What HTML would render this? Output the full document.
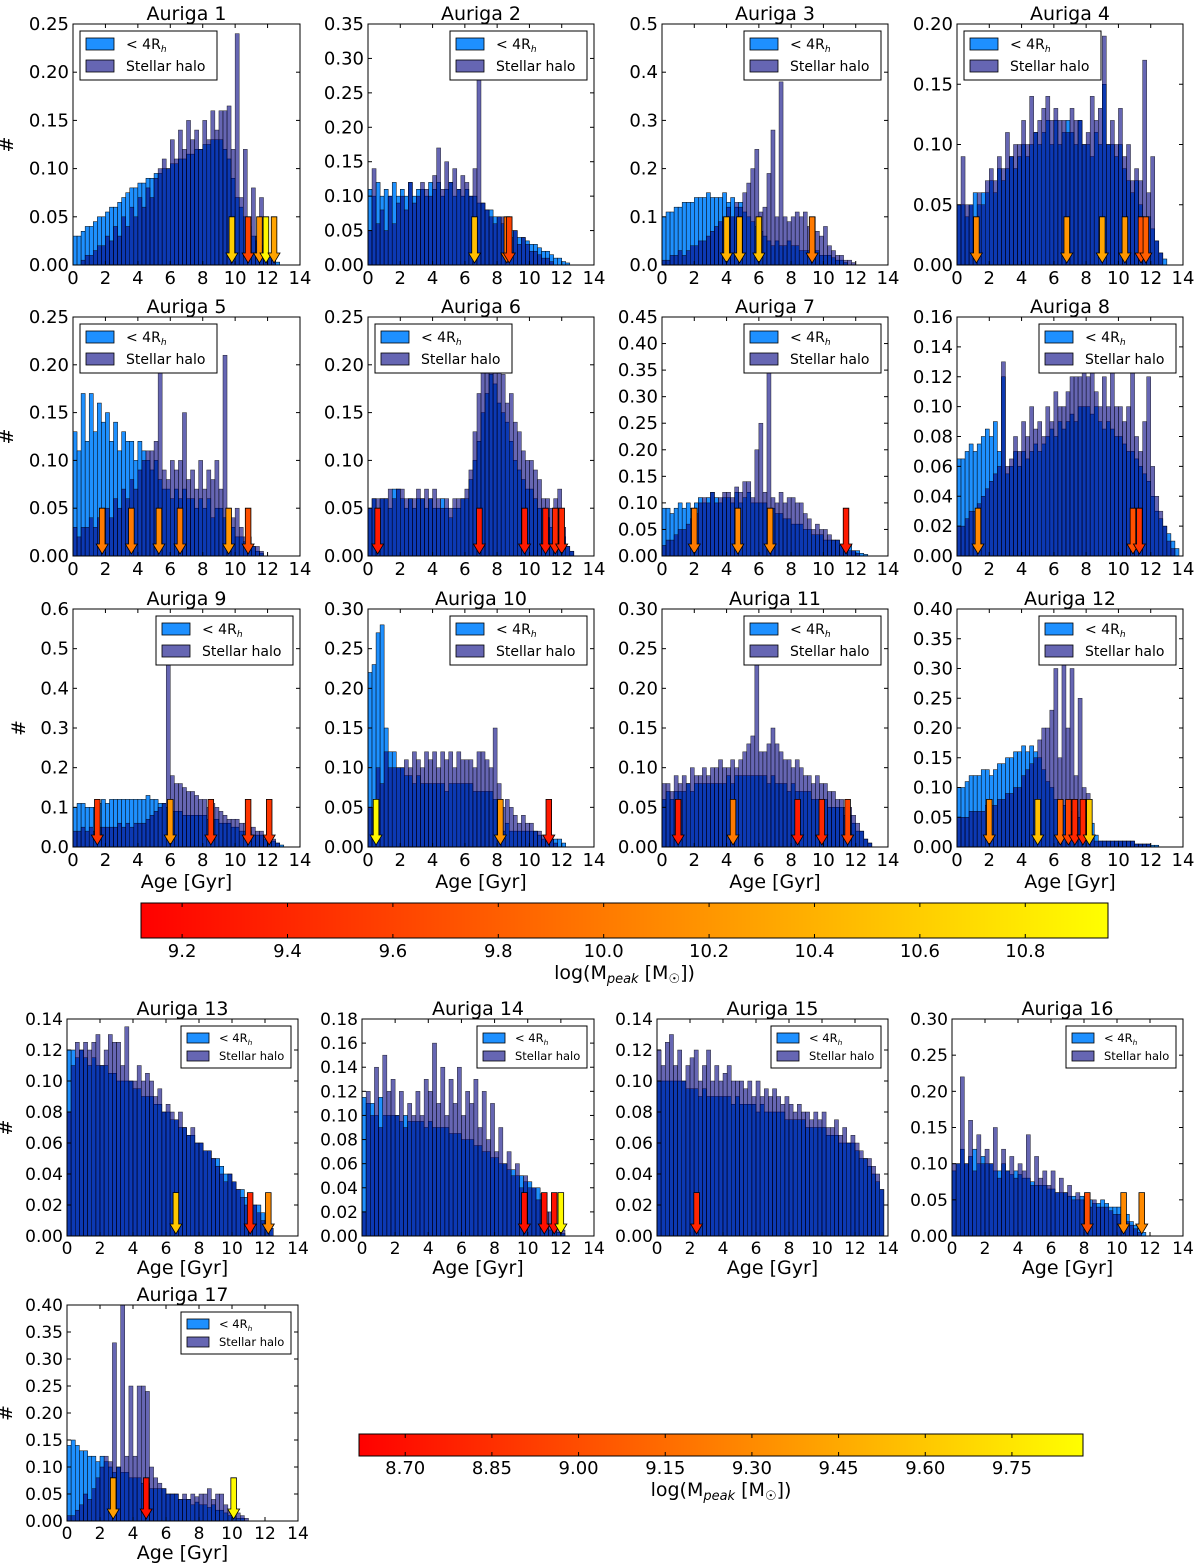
<!DOCTYPE html>
<html><head><meta charset="utf-8"><style>
body{margin:0;background:#fff}
svg{display:block;font-family:"DejaVu Sans","Liberation Sans",sans-serif}
</style></head><body>
<svg id="fig" width="1200" height="1568" viewBox="0 0 1200 1568" xmlns="http://www.w3.org/2000/svg">
<defs>
<linearGradient id="autumn" x1="0" x2="1" y1="0" y2="0"><stop offset="0" stop-color="#ff0000"/><stop offset="1" stop-color="#ffff00"/></linearGradient>
</defs>
</svg>
<script>
const binWidth = 0.25;
const blue1=[.03,.03,.035,.04,.04,.045,.05,.05,.055,.06,.06,.065,.07,.075,.08,.08,.085,.085,.09,.09,.095,.095,.1,.1,.105,.105,.11,.11,.115,.115,.12,.12,.125,.125,.13,.13,.13,.12,.11,.09,.07,.06,.05,.04,.03,.025,.02,.015,.01,.005,.003,0];
const halo1=[0,0,.005,.01,.01,.015,.02,.02,.03,.025,.04,.03,.05,.04,.06,.05,.07,.06,.08,.07,.09,.1,.11,.1,.13,.11,.14,.12,.15,.13,.14,.12,.15,.13,.16,.14,.16,.16,.165,.12,.24,.07,.12,.05,.08,.03,.07,.02,.01,.005,0];
const blue2=[.11,.1,.12,.1,.11,.1,.12,.1,.11,.1,.12,.1,.11,.11,.1,.12,.11,.12,.1,.11,.12,.1,.11,.1,.11,.1,.1,.09,.09,.08,.08,.07,.07,.06,.06,.05,.05,.04,.04,.035,.03,.03,.025,.02,.02,.015,.01,.01,.005,.003,0];
const halo2=[.05,.14,.06,.08,.05,.1,.06,.09,.1,.08,.12,.09,.1,.12,.11,.1,.13,.17,.11,.15,.12,.14,.11,.13,.12,.1,.14,.28,.09,.08,.07,.06,.07,.07,.05,.04,.05,.03,.04,.03,.02,.02,.015,.01,.01,.005,0];
const blue3=[.1,.11,.11,.12,.12,.13,.13,.13,.14,.14,.14,.15,.14,.14,.14,.15,.13,.14,.12,.13,.11,.1,.09,.08,.07,.06,.05,.04,.05,.04,.04,.05,.04,.04,.03,.03,.03,.03,.03,.02,.02,.02,.015,.01,.01,.005,0];
const halo3=[.01,.01,.02,.02,.03,.02,.03,.04,.04,.05,.05,.06,.07,.08,.09,.1,.12,.1,.13,.12,.15,.17,.2,.24,.11,.12,.19,.28,.1,.38,.1,.09,.1,.11,.1,.11,.08,.1,.07,.06,.08,.04,.03,.02,.02,.01,.01,.005,0];
const blue4=[.05,.05,.04,.05,.06,.05,.06,.06,.07,.06,.08,.07,.08,.09,.08,.09,.1,.09,.1,.11,.1,.11,.12,.1,.12,.1,.11,.12,.11,.1,.12,.1,.1,.09,.11,.1,.15,.1,.1,.09,.1,.08,.07,.06,.07,.05,.04,.04,.03,.02,.01,.005,0];
const halo4=[.05,.09,.05,.05,.04,.06,.05,.07,.08,.07,.09,.08,.11,.09,.1,.1,.12,.1,.14,.11,.12,.13,.14,.12,.13,.12,.12,.11,.13,.12,.12,.1,.11,.14,.12,.13,.19,.1,.12,.1,.13,.09,.1,.07,.08,.07,.17,.06,.09,.02,.01,0];
const blue5=[.13,.11,.17,.12,.17,.13,.16,.14,.15,.12,.14,.11,.13,.12,.12,.1,.12,.11,.1,.09,.1,.08,.07,.07,.06,.07,.06,.07,.06,.06,.05,.06,.05,.06,.04,.05,.05,.04,.02,.03,.02,.02,.015,.01,.01,.005,.003,0];
const halo5=[.03,.02,.03,.03,.04,.03,.04,.05,.05,.04,.06,.05,.07,.06,.08,.07,.09,.1,.11,.11,.12,.2,.09,.08,.1,.09,.1,.15,.08,.09,.07,.1,.07,.09,.08,.1,.07,.21,.05,.04,.05,.03,.02,.02,.01,.01,.005,0];
const blue6=[.05,.06,.05,.06,.06,.05,.07,.07,.06,.05,.06,.05,.06,.06,.05,.06,.05,.05,.06,.05,.04,.05,.05,.06,.06,.08,.1,.12,.15,.17,.19,.18,.16,.15,.14,.12,.1,.09,.08,.07,.07,.06,.05,.05,.04,.03,.03,.02,.02,.01,.005,0];
const halo6=[.05,.06,.06,.06,.06,.07,.06,.07,.07,.06,.06,.06,.07,.06,.07,.06,.07,.06,.05,.06,.05,.06,.06,.06,.07,.09,.13,.17,.2,.2,.2,.2,.2,.19,.16,.17,.14,.13,.11,.1,.1,.09,.08,.06,.06,.05,.06,.07,.03,.01,.005,0];
const blue7=[.09,.09,.08,.09,.1,.09,.1,.09,.1,.11,.1,.11,.12,.11,.1,.11,.11,.1,.12,.1,.11,.12,.1,.1,.1,.1,.09,.09,.08,.08,.07,.07,.06,.06,.06,.05,.05,.04,.04,.04,.03,.03,.03,.03,.02,.02,.02,.01,.01,.005,.003,0];
const halo7=[.02,.03,.03,.04,.05,.05,.06,.07,.08,.1,.11,.1,.12,.1,.11,.12,.12,.11,.13,.12,.14,.14,.11,.2,.25,.12,.36,.11,.1,.12,.1,.11,.11,.1,.1,.08,.07,.05,.06,.05,.05,.04,.03,.03,.02,.02,.01,.01,.005,0];
const blue8=[.065,.065,.07,.075,.07,.075,.08,.085,.08,.09,.07,.12,.055,.06,.07,.06,.07,.065,.07,.075,.07,.075,.08,.085,.08,.09,.085,.09,.095,.09,.1,.1,.1,.095,.1,.09,.085,.09,.085,.08,.08,.075,.07,.07,.065,.06,.055,.05,.04,.03,.025,.02,.015,.01,.005,0];
const halo8=[.02,.02,.025,.03,.03,.035,.04,.045,.05,.055,.06,.13,.06,.065,.08,.07,.09,.08,.1,.085,.09,.08,.1,.09,.11,.1,.1,.11,.12,.12,.12,.13,.12,.13,.11,.1,.12,.1,.13,.1,.1,.09,.1,.13,.08,.07,.09,.12,.06,.04,.03,.02,.01,.005,0];
const blue9=[.1,.11,.11,.1,.1,.1,.11,.12,.11,.12,.12,.12,.12,.12,.12,.12,.12,.12,.13,.12,.12,.11,.11,.1,.09,.09,.09,.08,.08,.08,.08,.08,.08,.07,.07,.07,.06,.06,.06,.05,.05,.04,.04,.04,.03,.03,.03,.02,.02,.015,.01,.005,0];
const halo9=[.04,.04,.05,.04,.05,.04,.05,.05,.05,.05,.05,.06,.05,.06,.05,.06,.06,.06,.07,.08,.09,.1,.11,.47,.18,.16,.16,.15,.14,.14,.13,.12,.12,.1,.11,.1,.09,.08,.07,.07,.07,.06,.06,.05,.05,.04,.04,.03,.03,.02,.01,0];
const blue10=[.22,.23,.27,.28,.15,.12,.12,.1,.1,.09,.09,.08,.09,.08,.08,.08,.08,.08,.08,.07,.08,.08,.08,.08,.08,.08,.07,.07,.07,.07,.07,.06,.05,.02,.03,.02,.02,.02,.02,.02,.02,.02,.015,.01,.01,.01,.01,.01,.005,0];
const halo10=[.05,.05,.1,.08,.12,.1,.1,.1,.1,.11,.1,.12,.11,.1,.12,.11,.12,.1,.12,.11,.12,.1,.12,.11,.11,.11,.1,.12,.12,.11,.1,.15,.08,.05,.06,.05,.04,.03,.04,.03,.03,.02,.02,.015,.01,.01,.005,0];
const blue11=[.06,.07,.06,.07,.07,.07,.08,.07,.08,.08,.08,.08,.08,.08,.08,.08,.09,.08,.09,.09,.09,.09,.09,.09,.09,.09,.08,.09,.08,.08,.08,.07,.08,.07,.07,.07,.07,.06,.06,.06,.06,.05,.05,.05,.05,.04,.04,.03,.02,.02,.01,.005,0];
const halo11=[.08,.08,.07,.09,.08,.09,.08,.1,.09,.09,.1,.09,.1,.1,.11,.1,.1,.11,.1,.11,.12,.13,.14,.24,.12,.12,.13,.15,.13,.12,.11,.11,.1,.11,.1,.09,.09,.08,.09,.08,.08,.07,.07,.06,.06,.05,.05,.04,.03,.02,.01,.005,0];
const blue12=[.1,.1,.11,.12,.12,.12,.13,.13,.12,.13,.14,.14,.15,.15,.16,.16,.17,.16,.17,.16,.15,.13,.11,.1,.08,.07,.07,.06,.06,.06,.05,.05,.05,.04,.02,.01,.01,.01,.01,.01,.01,.01,.01,.01,.005,.005,.005,.005,.003,.003,0];
const halo12=[.05,.05,.05,.06,.06,.06,.06,.07,.07,.07,.08,.08,.09,.09,.1,.1,.12,.13,.14,.15,.18,.2,.2,.23,.3,.15,.32,.2,.3,.12,.25,.1,.09,.02,.01,.01,.01,.01,.01,.01,.01,.01,.01,.01,.005,.005,.005,.005,0];
const blue13=[.12,.12,.115,.12,.115,.11,.115,.11,.11,.11,.105,.105,.1,.1,.1,.1,.095,.095,.09,.09,.09,.085,.085,.08,.08,.075,.075,.07,.07,.065,.065,.06,.06,.055,.055,.05,.05,.045,.04,.04,.035,.03,.03,.025,.02,.02,.02,.015,.01,.005,0];
const halo13=[.08,.11,.125,.12,.125,.12,.125,.13,.11,.12,.13,.125,.125,.11,.135,.1,.1,.11,.1,.105,.1,.09,.095,.08,.085,.08,.075,.08,.07,.065,.07,.06,.06,.055,.055,.05,.045,.04,.035,.04,.035,.03,.025,.02,.025,.02,.015,.01,.01,.005,0];
const blue14=[.115,.11,.11,.1,.115,.1,.1,.1,.1,.095,.1,.095,.095,.095,.095,.09,.095,.09,.09,.09,.09,.085,.085,.085,.08,.08,.08,.075,.075,.07,.07,.065,.065,.06,.06,.055,.055,.05,.05,.045,.045,.04,.04,.035,.01,.005,.01,.003,.002,0];
const halo14=[.02,.12,.1,.14,.09,.15,.12,.13,.1,.12,.09,.11,.1,.12,.1,.13,.12,.16,.11,.14,.1,.13,.11,.14,.1,.12,.11,.13,.09,.12,.08,.11,.07,.09,.06,.07,.05,.06,.04,.05,.04,.04,.03,.03,.02,.02,.01,.01,.005,0];
const blue15=[.1,.1,.1,.1,.1,.1,.1,.095,.095,.095,.09,.095,.09,.09,.09,.09,.09,.09,.085,.09,.085,.085,.085,.085,.08,.085,.08,.08,.08,.08,.08,.075,.075,.075,.075,.075,.07,.07,.07,.07,.07,.065,.065,.065,.06,.06,.06,.06,.055,.05,.05,.045,.04,.035,.03,0];
const halo15=[.12,.11,.125,.13,.11,.12,.1,.11,.115,.12,.1,.11,.12,.1,.11,.1,.105,.11,.1,.1,.1,.095,.1,.09,.1,.09,.095,.09,.095,.09,.085,.09,.085,.08,.085,.08,.08,.075,.08,.075,.08,.07,.07,.075,.065,.07,.06,.065,.06,.055,.05,.05,.045,.04,.03,0];
const blue16=[.09,.1,.12,.1,.11,.12,.1,.11,.1,.1,.09,.09,.1,.09,.085,.09,.085,.08,.08,.075,.07,.07,.07,.065,.065,.06,.06,.06,.055,.055,.05,.055,.05,.05,.045,.045,.05,.045,.04,.04,.04,.035,.03,.02,.015,.01,.005,0];
const halo16=[.1,.1,.22,.1,.16,.09,.14,.1,.12,.1,.15,.08,.12,.09,.11,.08,.1,.09,.14,.07,.11,.08,.09,.07,.09,.06,.08,.06,.07,.05,.06,.05,.05,.04,.05,.04,.04,.04,.035,.03,.03,.025,.02,.015,.01,.005,0];
const blue17=[.14,.15,.14,.13,.13,.12,.12,.11,.12,.11,.1,.09,.1,.09,.09,.08,.08,.08,.07,.07,.06,.06,.06,.06,.05,.05,.05,.04,.04,.04,.03,.035,.03,.03,.025,.03,.02,.02,.015,.01,.01,.005,.005,0];
const halo17=[.01,.01,.02,.03,.05,.04,.06,.08,.1,.12,.11,.33,.1,.4,.12,.25,.12,.25,.25,.24,.1,.08,.07,.06,.05,.05,.05,.04,.05,.04,.05,.045,.05,.05,.06,.04,.05,.05,.03,.02,.02,.015,.01,.005,0];
const blues=[blue1,blue2,blue3,blue4,blue5,blue6,blue7,blue8,blue9,blue10,blue11,blue12,blue13,blue14,blue15,blue16,blue17];
const halos=[halo1,halo2,halo3,halo4,halo5,halo6,halo7,halo8,halo9,halo10,halo11,halo12,halo13,halo14,halo15,halo16,halo17];
const arrowAges=[[9.8,10.8,11.5,11.9,12.4],[6.6,8.6,8.75],[4,4.8,6,9.3],[1.2,6.8,9,10.4,11.4,11.7],[1.8,3.6,5.3,6.6,9.6,10.8],[0.6,6.9,9.7,11,11.6,12],[2,4.7,6.7,11.4],[1.3,10.9,11.3],[1.5,6,8.5,10.8,12.1],[0.5,8.2,11.2],[1,4.4,8.4,9.9,11.5],[2,5,6.4,6.9,7.3,7.8,8.2],[6.6,11.1,12.2],[9.8,11,11.6,12],[2.4],[8.2,10.4,11.5],[2.8,4.8,10.1]];
const arrowMass=[[10.6,9.6,10.2,10.9,10.3],[10.5,9.9,9.6],[10.4,10.4,10.5,10.0],[10.1,10.2,10.3,10.2,9.7,9.8],[10.0,10.0,10.1,10.0,10.2,9.7],[9.3,9.3,9.3,9.3,9.4,9.4],[10.0,10.1,10.1,9.3],[10.1,9.7,9.5],[9.5,10.2,9.5,9.5,9.5],[10.9,10.2,9.3],[9.3,10.0,9.3,9.4,9.6],[10.1,10.5,9.9,9.6,9.4,9.4,10.6],[9.6,8.8,9.3],[8.7,8.7,8.7,9.85],[8.8],[9.0,9.3,9.3],[9.4,8.7,9.85]];
const yMaxes=[.25,.35,.5,.2,.25,.25,.45,.16,.6,.3,.3,.4,.14,.18,.14,.3,.4];
const ySteps=[.05,.05,.1,.05,.05,.05,.05,.02,.1,.05,.05,.05,.02,.02,.02,.05,.05];
const xTicks=[0,2,4,6,8,10,12,14];
const cb1Ticks=[9.2,9.4,9.6,9.8,10.0,10.2,10.4,10.6,10.8];
const cb2Ticks=[8.70,8.85,9.00,9.15,9.30,9.45,9.60,9.75];
const cb1Range=[9.122,10.957];
const cb2Range=[8.62,9.873];

const NS='http://www.w3.org/2000/svg';
const svg=document.getElementById('fig');
function mk(tag,attrs,parent){const e=document.createElementNS(NS,tag);for(const k in attrs)e.setAttribute(k,attrs[k]);(parent||svg).appendChild(e);return e;}
function txt(s,x,y,size,anchor,parent){const t=mk('text',{x:x,y:y,'font-size':size,'text-anchor':anchor||'middle',fill:'#000'},parent);t.textContent=s;return t;}
function autumn(m,r){let t=(m-r[0])/(r[1]-r[0]);t=Math.max(0,Math.min(1,t));return 'rgb(255,'+Math.round(255*t)+',0)';}

const cols=[[73,300],[368,594],[662,888],[957,1183]];
const cols2=[[67,298],[362,594],[657,888],[952,1183]];
const rows=[[24,265],[317,556],[609,847]];
const legendLeft=[true,false,false,true,true,true,false,false,false,false,false,false];
const panels=[];
for(let i=0;i<12;i++){const c=cols[i%4],r=rows[Math.floor(i/4)];panels.push({x0:c[0],x1:c[1],y0:r[0],y1:r[1],big:true,left:legendLeft[i],ylab:i%4===0,xlab:i>=8,cb:cb1Range});}
for(let i=0;i<4;i++){panels.push({x0:cols2[i][0],x1:cols2[i][1],y0:1019,y1:1236,big:false,left:false,ylab:i===0,xlab:true,cb:cb2Range});}
panels.push({x0:67,x1:298,y0:1305,y1:1521,big:false,left:false,ylab:true,xlab:true,cb:cb2Range});

panels.forEach((p,idx)=>{
  const g=mk('g',{});
  
  
  const ymax=yMaxes[idx],step=ySteps[idx];
  const xs=v=>p.x0+(v/14)*(p.x1-p.x0);
  const ys=v=>p.y1-(Math.min(v,ymax)/ymax)*(p.y1-p.y0);
  const fs=p.big?18:17;
  const b=blues[idx],h=halos[idx];
  b.forEach((v,i)=>{if(v<=0)return;const r=mk('rect',{x:xs(i*binWidth),y:ys(v),width:xs(binWidth)-xs(0),height:p.y1-ys(v),fill:'#1e90ff',stroke:'#000','stroke-width':0.5},g);
    
    });
  h.forEach((v,i)=>{if(v<=0)return;const r=mk('rect',{x:xs(i*binWidth),y:ys(v),width:xs(binWidth)-xs(0),height:p.y1-ys(v),fill:'#000080','fill-opacity':0.6,stroke:'#000','stroke-opacity':0.8,'stroke-width':0.5},g);
    
    });
  const H=p.y1-p.y0;
  arrowAges[idx].forEach((a,k)=>{const cx=xs(a),top=p.y1-0.2*H,bot=p.y1-2,hl=10,sw=2.8,hw=6;
    const d=`M${cx-sw},${top} L${cx+sw},${top} L${cx+sw},${bot-hl} L${cx+hw},${bot-hl} L${cx},${bot} L${cx-hw},${bot-hl} L${cx-sw},${bot-hl} Z`;
    const ar=mk('path',{d:d,fill:autumn(arrowMass[idx][k],p.cb),stroke:'#000','stroke-width':0.8},g);
    
    });
  mk('rect',{x:p.x0,y:p.y0,width:p.x1-p.x0,height:p.y1-p.y0,fill:'none',stroke:'#000','stroke-width':1},g);
  xTicks.forEach(t=>{const x=xs(t);mk('line',{x1:x,x2:x,y1:p.y1,y2:p.y1-4,stroke:'#000'},g);mk('line',{x1:x,x2:x,y1:p.y0,y2:p.y0+4,stroke:'#000'},g);
    const tl=txt(String(t),x,p.y1+(p.big?19:18),fs,'middle',g);
    
    });
  const dec=step>=0.1?1:2;const n=Math.round(ymax/step);
  for(let k=0;k<=n;k++){const v=k*step,y=ys(v);mk('line',{x1:p.x0,x2:p.x0+4,y1:y,y2:y,stroke:'#000'},g);mk('line',{x1:p.x1,x2:p.x1-4,y1:y,y2:y,stroke:'#000'},g);
    const tl=txt(v.toFixed(dec),p.x0-4,y+6,fs,'end',g);
    
    }
  const tt=txt('Auriga '+(idx+1),(p.x0+p.x1)/2,p.y0-4,19,'middle',g);
  
  
  if(p.ylab){const yx=idx===8?p.x0-48:(p.big?p.x0-60:p.x0-55);const yl=txt('#',yx,(p.y0+p.y1)/2,19,'middle',g);yl.setAttribute('transform',`rotate(-90 ${yx} ${(p.y0+p.y1)/2})`);
    
    }
  if(p.xlab){const xl=txt('Age [Gyr]',(p.x0+p.x1)/2,p.y1+(p.big?41:38),19,'middle',g);
    
    }
  const lw=p.big?137:110,lh=p.big?49:42;
  const lx=p.left?p.x0+7:p.x1-7-lw,ly=p.y0+7;
  const lg=mk('g',{},g);
  
  
  mk('rect',{x:lx,y:ly,width:lw,height:lh,fill:'#fff',stroke:'#000','stroke-width':1},lg);
  const sw=p.big?28:22,sh=p.big?12:10,lfs=p.big?14:11.5;
  const r1=ly+(p.big?13:12),r2=ly+(p.big?35:30);
  mk('rect',{x:lx+6,y:r1-sh/2,width:sw,height:sh,fill:'#1e90ff',stroke:'#000','stroke-width':0.8},lg);
  mk('rect',{x:lx+6,y:r2-sh/2,width:sw,height:sh,fill:'#000080','fill-opacity':0.6,stroke:'#000','stroke-width':0.8},lg);
  const tx=lx+(p.big?46:38);
  const t1=mk('text',{x:tx,y:r1+lfs*0.36,'font-size':lfs,fill:'#000'},lg);
  t1.innerHTML='&lt; 4R<tspan font-size="'+(lfs*0.65)+'" font-style="italic" dy="3">h</tspan>';
  
  
  const t2=txt('Stellar halo',tx,r2+lfs*0.36,lfs,'start',lg);
  
  
});

function colorbar(x0,x1,y0,y1,range,ticks,dec,labY,titleY,fs,name){
  const g=mk('g',{});
  
  
  mk('rect',{x:x0,y:y0,width:x1-x0,height:y1-y0,fill:'url(#autumn)',stroke:'#000','stroke-width':1},g);
  const xs=v=>x0+(v-range[0])/(range[1]-range[0])*(x1-x0);
  ticks.forEach(t=>{const x=xs(t);mk('line',{x1:x,x2:x,y1:y1,y2:y1-4,stroke:'#000'},g);mk('line',{x1:x,x2:x,y1:y0,y2:y0+4,stroke:'#000'},g);
    const tl=txt(t.toFixed(dec),x,labY,fs,'middle',g);
    
    });
  const t=mk('text',{x:(x0+x1)/2,y:titleY,'font-size':19,'text-anchor':'middle',fill:'#000'},g);
  t.innerHTML='log(M<tspan font-size="13" font-style="italic" dy="4">peak</tspan><tspan dy="-4"> [M</tspan><tspan font-size="13" dy="4">☉</tspan><tspan dy="-4">])</tspan>';
  
  
}
colorbar(141,1108,903,938,cb1Range,cb1Ticks,1,957,979,18,'colorbar-top');
colorbar(359,1083,1434,1456,cb2Range,cb2Ticks,2,1474,1496,18,'colorbar-bottom');
</script>
</body></html>
